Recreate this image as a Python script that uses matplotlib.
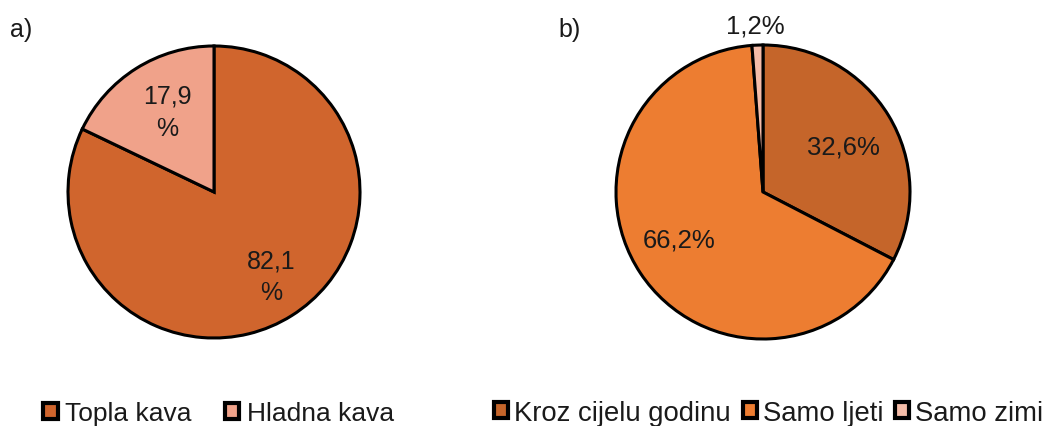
import matplotlib
matplotlib.use("Agg")
import matplotlib.pyplot as plt

plt.rcParams['font.family'] = ['Liberation Sans', 'DejaVu Sans']

# Data
labels_a = ["Topla kava", "Hladna kava"]
values_a = [82.1, 17.9]
texts_a = ["82,1\n%", "17,9\n%"]
colors_a = ["#D0652D", "#F0A28A"]

labels_b = ["Kroz cijelu godinu", "Samo ljeti", "Samo zimi"]
values_b = [32.6, 66.2, 1.2]
texts_b = ["32,6%", "66,2%", "1,2%"]
colors_b = ["#C5652A", "#ED7D31", "#F5BCA8"]

# label positions in pie radius units
pos_a = [(0.39, -0.58), (-0.32, 0.55)]
pos_b = [(0.55, 0.31), (-0.57, -0.32), (-0.05, 1.13)]

W, H = 1045, 427
fig = plt.figure(figsize=(W / 100, H / 100), dpi=100)


def make_pie(cx, cy, r, values, colors, texts, pos, labels, leg_x, ncol,
             lab_fs, leg_fs, colsp, txtpad, hlen):
    ax = fig.add_axes([(cx - r) / W, (H - cy - r) / H, 2 * r / W, 2 * r / H])
    wedges, _ = ax.pie(values, colors=colors, startangle=90, counterclock=False,
                       wedgeprops=dict(edgecolor="black", linewidth=2.2))
    ax.set_xlim(-1, 1)
    ax.set_ylim(-1, 1)
    ax.set_aspect("equal")
    ax.axis("off")
    for t, (x, y) in zip(texts, pos):
        ax.text(x, y, t, ha="center", va="center", fontsize=lab_fs, color="#1a1a1a",
                linespacing=1.4, clip_on=False)
    handles = [plt.Rectangle((0, 0), 1, 1, facecolor=c, edgecolor="black", linewidth=3)
               for c in colors]
    fig.legend(handles, labels, loc="center left", bbox_to_anchor=(leg_x / W, 1 - 414 / H),
               ncol=ncol, frameon=False, fontsize=leg_fs, handlelength=hlen, handleheight=hlen,
               handletextpad=txtpad, columnspacing=colsp, borderpad=0, borderaxespad=0,
               labelcolor="#1a1a1a")
    return ax


make_pie(214, 193, 146, values_a, colors_a, texts_a, pos_a, labels_a, 43, 2,
         18, 19, 1.25, 0.3, 0.55)
make_pie(763, 193, 147, values_b, colors_b, texts_b, pos_b, labels_b, 494, 3,
         18.5, 19.8, 0.42, 0.22, 0.52)

fig.text(10 / W, 1 - 30 / H, "a)", fontsize=18, va="center", ha="left", color="#1a1a1a")
fig.text(558 / W, 1 - 30 / H, "b)", fontsize=18, va="center", ha="left", color="#1a1a1a")

fig.savefig("out.png", dpi=100, facecolor="white")
